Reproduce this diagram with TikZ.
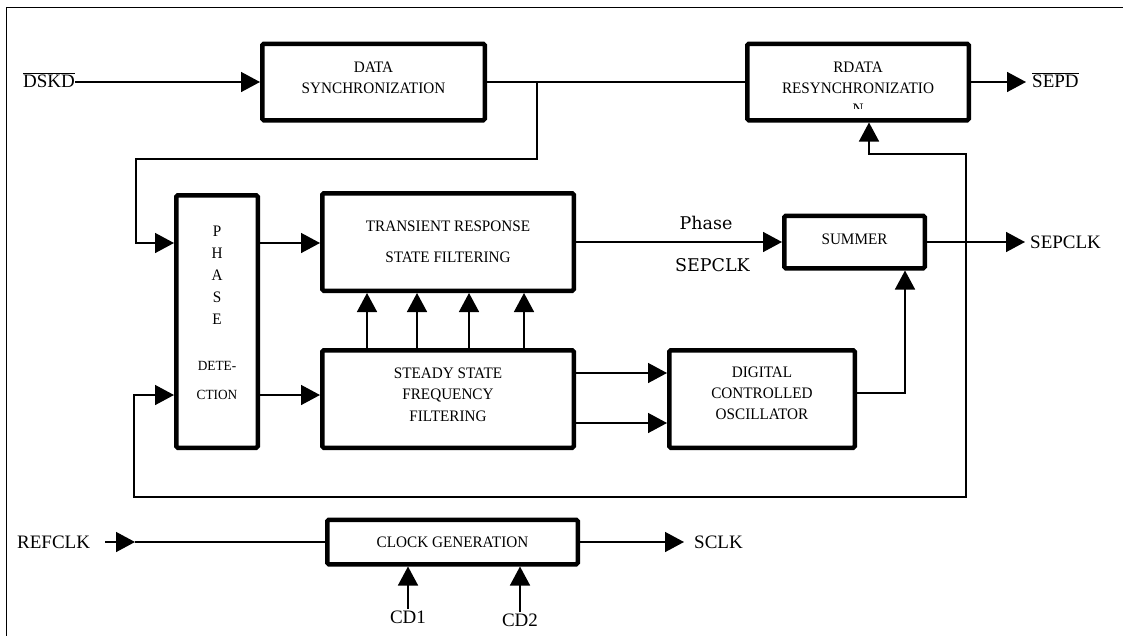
\documentclass[tikz,border=0pt]{standalone}
\usepackage{fontspec}
\setmainfont{Liberation Serif}
\newfontfamily\boxfont[FakeStretch=0.95]{Liberation Serif}
\newfontfamily\dvs{DejaVu Serif}
\usetikzlibrary{arrows.meta,calc}
\tikzset{
  blk/.style={draw, line width=4.5pt, rounded corners=1.5pt, inner sep=0pt},
  txt/.style={font=\boxfont\fontsize{16}{21}\selectfont, align=center, inner sep=0pt},
  lbl/.style={font=\fontsize{19}{22}\selectfont, inner sep=0pt},
  mlbl/.style={font=\dvs\fontsize{17.5}{20}\selectfont, inner sep=0pt},
  conn/.style={line width=1.5pt},
  arr/.style={conn, -{Triangle[length=19pt,width=20pt]}},
  dblarr/.style={conn, {Triangle[length=19pt,width=20pt]}-{Triangle[length=19pt,width=20pt]}}
}
\begin{document}
\begin{tikzpicture}[x=1pt,y=-1pt]
\useasboundingbox (0,0) rectangle (1123,635);
\clip (0,0) rectangle (1123,635);
% outer frame (only top and left visible)
\draw[line width=1.8pt] (6.5,650) -- (6.5,7.5) -- (1140,7.5);

% boxes
\node[blk, minimum width=222.5pt, minimum height=76.5pt] (ds) at (373.5,82) {};
\node[blk, minimum width=221.5pt, minimum height=76.5pt] (rd) at (858,82) {};
\node[blk, minimum width=81.5pt, minimum height=252.5pt] (ph) at (217,321.5) {};
\node[blk, minimum width=251.5pt, minimum height=97.5pt] (trs) at (448,242) {};
\node[blk, minimum width=251.5pt, minimum height=97.5pt] (ss) at (448,399) {};
\node[blk, minimum width=185.5pt, minimum height=97.5pt] (dco) at (762,399) {};
\node[blk, minimum width=140.5pt, minimum height=52.5pt] (sum) at (854.5,242) {};
\node[blk, minimum width=250.5pt, minimum height=44.5pt] (clk) at (452.5,542) {};

% box texts
\node[txt] (dstxt) at (373.5,77.5) {DATA\\SYNCHRONIZATION};
\node[txt] (rdtxt) at (858,77.5) {RDATA\\RESYNCHRONIZATIO};
\begin{scope}
  \clip (820,99) rectangle (900,108.5);
  \node[txt] (rdN) at (858,109) {N};
\end{scope}
\node[txt, font=\boxfont\fontsize{16}{22}\selectfont] (phtxt) at (217,275) {P\\H\\A\\S\\E};
\node[txt, font=\boxfont\fontsize{14}{29}\selectfont] (phtxt2) at (217,380.5) {DETE-\\CTION};
\node[txt, font=\boxfont\fontsize{16}{31}\selectfont] (trstxt) at (448,241.5) {TRANSIENT RESPONSE\\STATE FILTERING};
\node[txt, font=\boxfont\fontsize{16}{21.5}\selectfont] (sstxt) at (448,394.5) {STEADY STATE\\FREQUENCY\\FILTERING};
\node[txt] (dcotxt) at (762,393) {DIGITAL\\CONTROLLED\\OSCILLATOR};
\node[txt] (sumtxt) at (854.5,239) {SUMMER};
\node[txt] (clktxt) at (452.5,542) {CLOCK GENERATION};

% outer labels
\node[lbl, anchor=base west] (dskd) at (23,87) {$\overline{\hbox{DSKD}}$};
\node[lbl, anchor=base west] (sepd) at (1032,87) {$\overline{\hbox{SEPD}}$};
\node[lbl, anchor=base west] (sepclk) at (1030,248) {SEPCLK};
\node[lbl, anchor=base west] (refclk) at (17,548) {REFCLK};
\node[lbl, anchor=base west] (sclk) at (694,548) {SCLK};
\node[lbl, anchor=base] (cd1) at (408,623) {CD1};
\node[lbl, anchor=base] (cd2) at (520,626) {CD2};
\node[mlbl, anchor=base] (phase) at (706,229) {Phase};
\node[mlbl, anchor=base] (msepclk) at (712.5,271) {SEPCLK};

% connectors
\draw[arr] (dskd.east |- ds.west) -- (ds.west);
\draw[conn] (ds.east) -- (rd.west);
\coordinate (br) at (537,82);
\coordinate (k1) at (136,159);
\draw[arr] (br) |- (k1) |- (ph.west |- 0,243);
\draw[arr] ([xshift=-4pt]rd.east) -- ([xshift=-6pt]sepd.west |- rd.east);
\draw[dblarr] (ph.west |- 0,395) -| (134,497) -| (966,154) -| ([xshift=11pt]rd.south);
\draw[arr] (ph.east |- 0,243) -- (trs.west |- 0,243);
\draw[arr] (ph.east |- 0,395) -- (ss.west |- 0,395);
\foreach \x in {367,417,469,524}
  \draw[arr] (ss.north -| \x,0) -- (trs.south -| \x,0);
\draw[arr] (trs.east) -- (sum.west);
\draw[arr] (sum.east) -- ([xshift=-5pt]sepclk.west |- sum.east);
\draw[arr] (ss.east |- 0,373) -- (dco.west |- 0,373);
\draw[arr] (ss.east |- 0,423) -- (dco.west |- 0,423);
\draw[arr] (dco.east |- 0,393) -| ([xshift=50.5pt]sum.south);
\coordinate (rtip) at (135,542);
\draw[arr] (clk.west -| 105,0) -- (rtip);
\draw[conn] (rtip) -- (clk.west);
\draw[arr] (clk.east) -- ([xshift=-10pt]sclk.west |- clk.east);
\draw[arr] ([yshift=14pt]cd1.base) -- (cd1.base |- clk.south);
\draw[arr] ([yshift=14pt]cd2.base) -- (cd2.base |- clk.south);
\end{tikzpicture}
\end{document}
